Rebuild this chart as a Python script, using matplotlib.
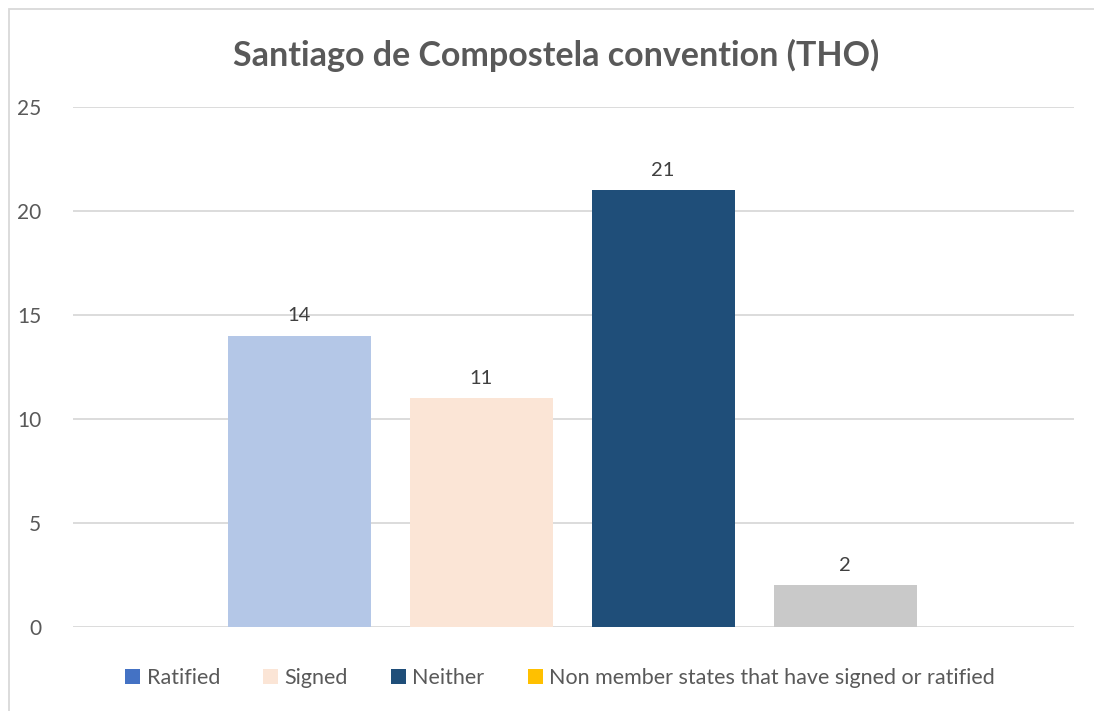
import matplotlib.pyplot as plt
from matplotlib.patches import Patch, Rectangle

plt.rcParams['font.family'] = ['Lato', 'DejaVu Sans']

title = "Santiago de Compostela convention (THO)"
values = [14, 11, 21, 2]
bar_colors = ["#B4C7E7", "#FBE5D6", "#1F4E79", "#C9C9C9"]
legend_labels = ["Ratified", "Signed", "Neither",
                 "Non member states that have signed or ratified"]
legend_colors = ["#4472C4", "#FBE5D6", "#1F4E79", "#FFC000"]
yticks = [0, 5, 10, 15, 20, 25]

W, H = 1094, 711
fig = plt.figure(figsize=(W / 100, H / 100), dpi=100)
ax = fig.add_axes([73 / W, 84 / H, (1074 - 73) / W, (627 - 107) / H])

x = list(range(len(values)))
bars = ax.bar(x, values, width=0.786, color=bar_colors, zorder=2)
for b, v in zip(bars, values):
    ax.text(b.get_x() + b.get_width() / 2, v + 0.55, str(v),
            ha="center", va="bottom", fontsize=14.5, color="#404040")

ax.set_xlim(-1.242, 3 + 1.258)
ax.set_ylim(0, 25)
ax.set_yticks(yticks)
ax.set_xticks([])
ax.grid(axis="y", color="#D9D9D9", linewidth=1.3, zorder=0)
for s in ax.spines.values():
    s.set_visible(False)
ax.tick_params(axis="y", length=0, pad=23, labelsize=15, labelcolor="#595959")

fig.text(556 / W, 1 - 55 / H, title, ha="center", va="center",
         fontsize=24.5, fontweight="bold", color="#595959")

handles = [Patch(facecolor=c) for c in legend_colors]
fig.legend(handles, legend_labels, loc="center", bbox_to_anchor=(560 / W, 1 - 678 / H),
           ncol=4, frameon=False, fontsize=15.5, labelcolor="#595959",
           handlelength=0.7, handleheight=0.7, handletextpad=0.3, columnspacing=2.0)

fig.add_artist(Rectangle((9 / W, -0.1), 1.2, 1.1 - 9 / H, transform=fig.transFigure,
                         fill=False, edgecolor="#D9D9D9", linewidth=1.3))

fig.savefig("out.png", dpi=100)
